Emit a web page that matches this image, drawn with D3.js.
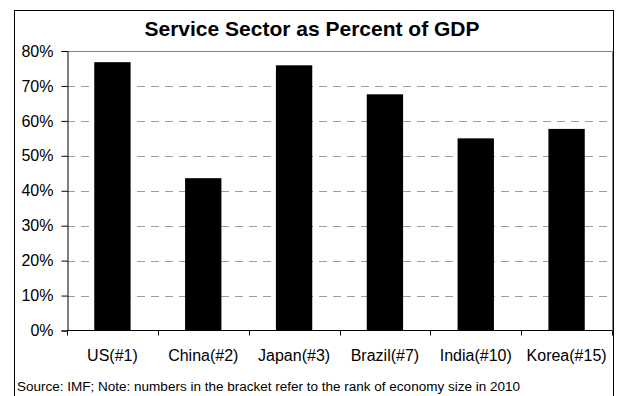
<!DOCTYPE html>
<html>
<head>
<meta charset="utf-8">
<script src="https://cdn.jsdelivr.net/npm/d3@7"></script>
<style>
body{margin:0;background:#fff;}
svg{font-family:"Liberation Sans",Arial,sans-serif;}
</style>
</head>
<body>
<script>
var categories = ["US(#1)","China(#2)","Japan(#3)","Brazil(#7)","India(#10)","Korea(#15)"];
var values = [76.8, 43.6, 75.9, 67.6, 55.0, 57.7];
var yTicks = [0,10,20,30,40,50,60,70,80];
var title = "Service Sector as Percent of GDP";
var source = "Source: IMF;  Note: numbers in the bracket refer to the rank of economy size in 2010";

var WIDTH = 617, HEIGHT = 396;
var PLOT = {left:67, top:51, right:612, bottom:330.5};

var svg = d3.select('body').append('svg')
	.attr('width',WIDTH)
	.attr('height',HEIGHT);

// outer chart border
svg.append('rect')
	.attr('x',14.5).attr('y',10.5)
	.attr('width',599).attr('height',400)
	.attr('fill','none').attr('stroke','#000').attr('stroke-width',1);

var xScale = d3.scaleBand().domain(categories)
	.range([PLOT.left,PLOT.right])
	.paddingInner(0.6).paddingOuter(0.3);
var catScale = d3.scaleBand().domain(categories).range([PLOT.left,PLOT.right]);
var yScale = d3.scaleLinear().domain([0,80]).range([PLOT.bottom,PLOT.top]);

// gridlines
svg.append('g').selectAll('line').data(yTicks.filter(function(d){return d>0 && d<80}))
	.enter().append('line')
	.attr('x1',PLOT.left).attr('x2',PLOT.right)
	.attr('y1',function(d){return Math.round(yScale(d))+0.5})
	.attr('y2',function(d){return Math.round(yScale(d))+0.5})
	.attr('stroke','#a0a0a0').attr('stroke-dasharray','8,6');

// plot area border top/right
svg.append('path')
	.attr('d','M'+PLOT.left+','+(PLOT.top+0.5)+'H'+(PLOT.right+0.5)+'V'+PLOT.bottom)
	.attr('fill','none').attr('stroke','#808080');

// bars
svg.append('g').selectAll('rect').data(values)
	.enter().append('rect')
	.attr('x',function(d,i){return xScale(categories[i])})
	.attr('y',function(d){return yScale(d)})
	.attr('width',xScale.bandwidth())
	.attr('height',function(d){return PLOT.bottom - yScale(d)})
	.attr('fill','#000');

// y axis
var yAxis = d3.axisLeft(yScale).tickValues(yTicks)
	.tickSize(6).tickPadding(8)
	.tickFormat(function(d){return d+'%'});
var gy = svg.append('g').attr('transform','translate('+(PLOT.left+0.5)+',0)').call(yAxis);
gy.select('.domain').attr('stroke','#000');
gy.selectAll('text').attr('font-size',16).attr('fill','#000')
	.attr('font-family','"Liberation Sans",Arial,sans-serif');

// x axis
var xAxis = d3.axisBottom(catScale).tickSize(5).tickPadding(14);
var gx = svg.append('g').attr('transform','translate(0,'+(PLOT.bottom)+')').call(xAxis);
gx.select('.domain').attr('d','M'+PLOT.left+',0H'+PLOT.right).attr('stroke','#000');
gx.selectAll('.tick line').remove();
gx.selectAll('.tick text').attr('font-size',16).attr('fill','#000')
	.attr('font-family','"Liberation Sans",Arial,sans-serif');
var bounds = d3.range(categories.length+1).map(function(i){return PLOT.left + i*catScale.step()});
gx.selectAll('.btick').data(bounds).enter().append('line')
	.attr('x1',function(d){return Math.round(d)+0.5}).attr('x2',function(d){return Math.round(d)+0.5})
	.attr('y1',0).attr('y2',5).attr('stroke','#000');

// title
svg.append('text').attr('x',312).attr('y',36)
	.attr('text-anchor','middle').attr('font-size',21).attr('font-weight','bold')
	.text(title);

// source note
svg.append('text').attr('x',17).attr('y',391)
	.attr('font-size',12).attr('textLength',503).attr('lengthAdjust','spacingAndGlyphs')
	.text(source);
</script>
</body>
</html>
